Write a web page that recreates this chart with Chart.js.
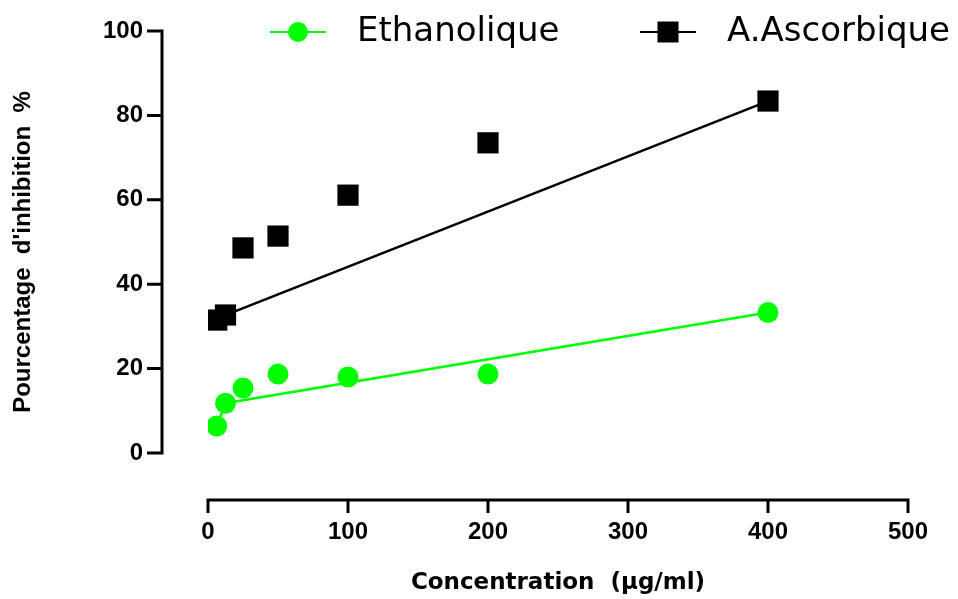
<!DOCTYPE html>
<html>
<head>
<meta charset="utf-8">
<script src="https://cdn.jsdelivr.net/npm/chart.js@4"></script>
<style>
  html, body { margin: 0; background: #fff; }
  #wrap { width: 958px; height: 599px; position: relative; }
</style>
</head>
<body>
<div id="wrap"><canvas id="chart"></canvas></div>
<script>
'use strict';

// ── Data ─────────────────────────────────────────────────────────
const concentrations = [6.25, 12.5, 25, 50, 100, 200, 400];
const ethanolique    = [6.4, 11.8, 15.4, 18.7, 18.0, 18.7, 33.3];
const ascorbique     = [31.5, 32.7, 48.6, 51.4, 61.1, 73.5, 83.4];

// trend lines as drawn in the figure
const fitX   = [6.25, 12.5, 400];
const ethFit = [6.4, 11.8, 33.3];
const ascFit = [31.5, 32.7, 83.4];

const xTickValues = [0, 100, 200, 300, 400, 500];
const yTickValues = [0, 20, 40, 60, 80, 100];

const GREEN = '#00ff00';
const BLACK = '#000000';
const WIDE  = '"DejaVu Sans", Verdana, sans-serif';
const ARIAL = '"Liberation Sans", Arial, Helvetica, sans-serif';

const toXY = (xs, ys) => xs.map((x, i) => ({ x, y: ys[i] }));

// ── Prism-style detached axes ────────────────────────────────────
const detachedAxes = {
  id: 'detachedAxes',
  afterDraw(chart) {
    const { ctx, chartArea, scales: { x, y } } = chart;
    const axisX = chartArea.left - 46;
    const axisY = chartArea.bottom + 47;
    ctx.save();
    ctx.strokeStyle = BLACK;
    ctx.lineWidth = 3;
    ctx.lineCap = 'butt';

    // y axis
    ctx.beginPath();
    ctx.moveTo(axisX, y.getPixelForValue(0) + 1.5);
    ctx.lineTo(axisX, y.getPixelForValue(100) - 1.5);
    yTickValues.forEach(v => {
      const py = y.getPixelForValue(v);
      ctx.moveTo(axisX - 15, py);
      ctx.lineTo(axisX, py);
    });
    ctx.stroke();

    // x axis
    ctx.beginPath();
    ctx.moveTo(x.getPixelForValue(0) - 1.5, axisY);
    ctx.lineTo(x.getPixelForValue(500) + 1.5, axisY);
    xTickValues.forEach(v => {
      const px = x.getPixelForValue(v);
      ctx.moveTo(px, axisY - 1.5);
      ctx.lineTo(px, axisY + 13);
    });
    ctx.stroke();
    ctx.restore();
  },
};

// ── Legend with line-through markers ─────────────────────────────
const lineLegend = {
  id: 'lineLegend',
  afterDraw(chart) {
    const { ctx } = chart;
    const items = [
      { label: 'Ethanolique',  color: GREEN, shape: 'circle', x0: 270, text: 357 },
      { label: 'A.Ascorbique', color: BLACK, shape: 'rect',   x0: 640, text: 727 },
    ];
    const cy = 32;
    ctx.save();
    items.forEach(it => {
      ctx.strokeStyle = it.color;
      ctx.fillStyle = it.color;
      ctx.lineWidth = 2;
      ctx.beginPath();
      ctx.moveTo(it.x0, cy);
      ctx.lineTo(it.x0 + 56, cy);
      ctx.stroke();
      const mx = it.x0 + 28;
      if (it.shape === 'circle') {
        ctx.beginPath();
        ctx.arc(mx, cy, 10, 0, Math.PI * 2);
        ctx.fill();
      } else {
        ctx.fillRect(mx - 10.5, cy - 10.5, 21, 21);
      }
      ctx.fillStyle = BLACK;
      ctx.font = '34px ' + WIDE;
      ctx.textBaseline = 'alphabetic';
      ctx.fillText(it.label, it.text, 41);
    });
    ctx.restore();
  },
};

new Chart(document.getElementById('chart'), {
  type: 'scatter',
  data: {
    datasets: [
      {
        label: 'Ethanolique',
        data: toXY(concentrations, ethanolique),
        backgroundColor: GREEN,
        borderColor: GREEN,
        pointStyle: 'circle',
        pointRadius: 10.5,
        borderWidth: 0,
        order: 1,
      },
      {
        label: 'A.Ascorbique',
        data: toXY(concentrations, ascorbique),
        backgroundColor: BLACK,
        borderColor: BLACK,
        pointStyle: 'rect',
        pointRadius: 15,
        borderWidth: 0,
        order: 0,
      },
      {
        label: 'fit Ethanolique',
        type: 'line',
        data: toXY(fitX, ethFit),
        borderColor: GREEN,
        borderWidth: 2.5,
        pointRadius: 0,
        showLine: true,
        fill: false,
        order: 3,
      },
      {
        label: 'fit A.Ascorbique',
        type: 'line',
        data: toXY(fitX, ascFit),
        borderColor: BLACK,
        borderWidth: 2.5,
        pointRadius: 0,
        showLine: true,
        fill: false,
        order: 2,
      },
    ],
  },
  options: {
    responsive: true,
    maintainAspectRatio: false,
    animation: false,
    layout: { padding: { left: 6, top: 31, right: 50, bottom: 0 } },
    plugins: {
      legend: { display: false },
      tooltip: { enabled: false },
    },
    scales: {
      x: {
        type: 'linear',
        min: 0,
        max: 500,
        afterFit: s => { s.height = 146; },
        // invisible tick length pushes labels below the detached axis
        grid: { display: false, drawTicks: true, tickLength: 62 },
        border: { display: false },
        ticks: {
          stepSize: 100,
          padding: 3,
          color: BLACK,
          font: { family: ARIAL, size: 24, weight: 'bold' },
        },
        title: {
          display: true,
          text: 'Concentration  (µg/ml)',
          color: BLACK,
          font: { family: WIDE, size: 23, weight: 'bold' },
          padding: { top: 0, bottom: 2 },
        },
      },
      y: {
        type: 'linear',
        min: 0,
        max: 100,
        afterFit: s => { s.width = 202; },
        grid: { display: false, drawTicks: true, tickLength: 62 },
        border: { display: false },
        ticks: {
          stepSize: 20,
          padding: 3,
          color: BLACK,
          font: { family: ARIAL, size: 24, weight: 'bold' },
        },
        title: {
          display: true,
          text: "Pourcentage  d'inhibition  %   ",
          color: BLACK,
          font: { family: ARIAL, size: 24, weight: 'bold' },
          padding: { top: 3, bottom: 0 },
        },
      },
    },
  },
  plugins: [detachedAxes, lineLegend],
});
</script>
</body>
</html>
